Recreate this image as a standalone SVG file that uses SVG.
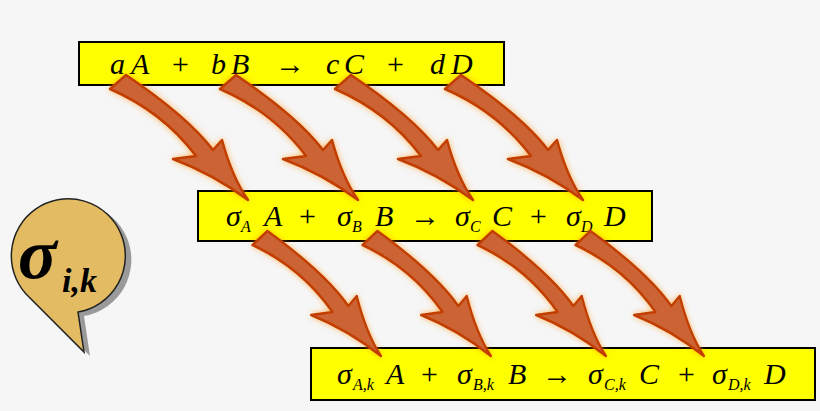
<svg xmlns="http://www.w3.org/2000/svg" width="820" height="411" viewBox="0 0 820 411">
<style>
.box{fill:#ffff00;stroke:#000;stroke-width:2}
.t{font-family:"Liberation Serif",serif;font-style:italic;font-size:30px;fill:#000}
.o{font-style:normal}
.s{font-family:"Liberation Serif",serif;font-style:italic;font-size:16px;fill:#000}
.arr{fill:#cc6436;stroke:#c23c00;stroke-width:2.5;stroke-linejoin:round;filter:url(#glow)}
</style>
<defs>
<filter id="glow" x="-30%" y="-30%" width="160%" height="160%">
<feGaussianBlur in="SourceAlpha" stdDeviation="3" result="b"/>
<feFlood flood-color="#ff8a00" flood-opacity="0.6"/>
<feComposite in2="b" operator="in" result="g"/>
<feMerge><feMergeNode in="g"/><feMergeNode in="SourceGraphic"/></feMerge>
</filter>
<path id="a" d="M8,-7 Q70,35 95,68 L104,58 Q114,95 130,118 Q95,92 55,77 L78,74 Q45,30 -8,7 Z"/>
</defs>
<rect width="820" height="411" fill="#f6f6f6"/>
<g id="box1"><rect class="box" x="79" y="42" width="425" height="43"/>
<text class="t" y="74"><tspan x="110">a</tspan><tspan x="131">A</tspan><tspan class="o" x="172">+</tspan><tspan x="211">b</tspan><tspan x="231">B</tspan><tspan class="o" x="275">→</tspan><tspan x="326">c</tspan><tspan x="344">C</tspan><tspan class="o" x="387">+</tspan><tspan x="430">d</tspan><tspan x="451">D</tspan></text></g>
<g id="box2"><rect class="box" x="198" y="191" width="454" height="50"/>
<text class="t" y="226"><tspan x="226">σ</tspan><tspan x="264">A</tspan><tspan class="o" x="299">+</tspan><tspan x="337">σ</tspan><tspan x="375">B</tspan><tspan class="o" x="410">→</tspan><tspan x="455">σ</tspan><tspan x="492">C</tspan><tspan class="o" x="530">+</tspan><tspan x="566">σ</tspan><tspan x="604">D</tspan></text>
<text class="s" y="232"><tspan x="241">A</tspan><tspan x="352">B</tspan><tspan x="470">C</tspan><tspan x="581">D</tspan></text></g>
<g id="box3"><rect class="box" x="311" y="348" width="504" height="52"/>
<text class="t" y="384"><tspan x="337">σ</tspan><tspan x="386">A</tspan><tspan class="o" x="421">+</tspan><tspan x="457">σ</tspan><tspan x="508">B</tspan><tspan class="o" x="542">→</tspan><tspan x="588">σ</tspan><tspan x="639">C</tspan><tspan class="o" x="678">+</tspan><tspan x="712">σ</tspan><tspan x="764">D</tspan></text>
<text class="s" y="390"><tspan x="353">A,k</tspan><tspan x="473">B,k</tspan><tspan x="604">C,k</tspan><tspan x="728">D,k</tspan></text></g>
<g id="connectors">
<use href="#a" class="arr" transform="translate(118,82)"/>
<use href="#a" class="arr" transform="translate(228,82)"/>
<use href="#a" class="arr" transform="translate(343,82)"/>
<use href="#a" class="arr" transform="translate(453,82)"/>
<use href="#a" class="arr" transform="translate(260,238) scale(0.93,1.0)"/>
<use href="#a" class="arr" transform="translate(370,238) scale(0.93,1.0)"/>
<use href="#a" class="arr" transform="translate(485,238) scale(0.93,1.0)"/>
<use href="#a" class="arr" transform="translate(583,238) scale(0.93,1.0)"/>
</g>
<g id="callout">
<path d="M30,298 A57,57 0 1 1 78,312 L84,352 Z" fill="#9a9a9a" transform="translate(6,4)"/>
<path d="M30,298 A57,57 0 1 1 78,312 L84,352 Z" fill="#e2bb62" stroke="#222" stroke-width="1.5"/>
<text x="18" y="278" font-family="Liberation Serif,serif" font-style="italic" font-weight="bold" font-size="72">σ</text>
<text x="62" y="292" font-family="Liberation Serif,serif" font-style="italic" font-weight="bold" font-size="34">i,k</text>
</g>
</svg>
